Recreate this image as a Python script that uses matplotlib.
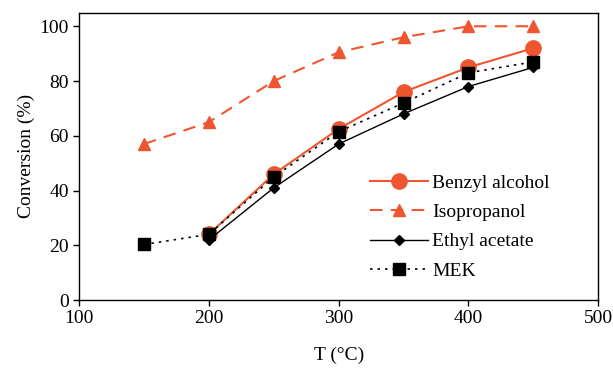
import matplotlib.pyplot as plt

plt.rcParams['font.family'] = ['Liberation Serif', 'DejaVu Serif']
plt.rcParams['font.size'] = 14

# temperatures (deg C)
t_iso = [150, 200, 250, 300, 350, 400, 450]
t_mek = [150, 200, 250, 300, 350, 400, 450]
t_bz = [200, 250, 300, 350, 400, 450]
t_ea = [200, 250, 300, 350, 400, 450]

# conversions (%)
benzyl = [24, 46, 62.5, 76, 85, 92]
isoprop = [57, 65, 80, 90.5, 96, 100, 100]
ethyl = [22, 41, 57, 68, 78, 85]
mek = [20.3, 24, 45, 61.5, 72, 83, 87]

red = '#EF5630'

fig, ax = plt.subplots(figsize=(6.13, 3.70), dpi=100)
fig.subplots_adjust(left=0.129, right=0.976, bottom=0.189, top=0.966)

ax.plot(t_bz, benzyl, color=red, lw=1.5, marker='o', ms=11, label='Benzyl alcohol', zorder=3)
ax.plot(t_iso, isoprop, color=red, lw=1.5, ls=(0, (6, 4)), marker='^', ms=8, label='Isopropanol', zorder=3)
ax.plot(t_ea, ethyl, color='black', lw=1.0, marker='D', ms=5, label='Ethyl acetate', zorder=4)
ax.plot(t_mek, mek, color='black', lw=1.2, ls=(0, (1.5, 3)), marker='s', ms=8, label='MEK', zorder=5)

ax.set_xlim(100, 500)
ax.set_ylim(0, 105)
ax.set_xticks([100, 200, 300, 400, 500])
ax.set_yticks([0, 20, 40, 60, 80, 100])
ax.tick_params(direction='out', length=4, width=1, labelsize=14)
ax.set_xlabel('T (°C)', labelpad=14)
ax.set_ylabel('Conversion (%)', labelpad=3)
for s in ax.spines.values():
    s.set_linewidth(1.0)

ax.legend(loc='lower right', bbox_to_anchor=(0.94, 0.01), frameon=False,
          handlelength=3.0, labelspacing=0.6, handletextpad=0.2, fontsize=14)

plt.savefig('out.png', dpi=100)
